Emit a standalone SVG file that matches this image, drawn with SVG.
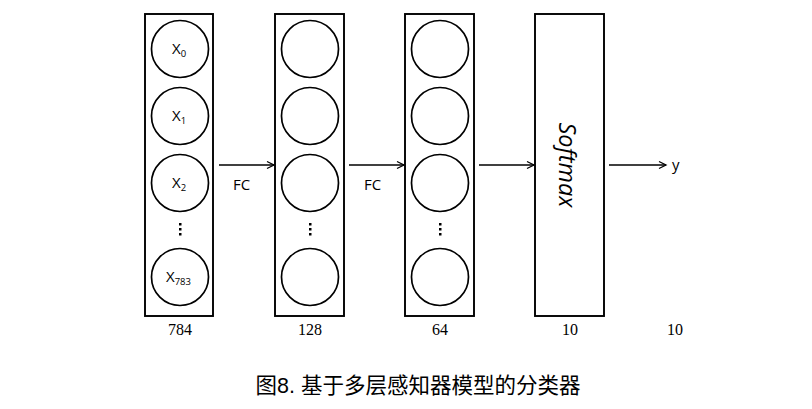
<svg xmlns="http://www.w3.org/2000/svg" width="812" height="409" viewBox="0 0 812 409">
<defs>
<marker id="ah" markerWidth="10" markerHeight="10" refX="8" refY="5" orient="auto" markerUnits="userSpaceOnUse">
<path d="M1,1.5 L8,5 L1,8.5" fill="none" stroke="#000" stroke-width="1.3"/>
</marker>
</defs>
<style>
.box{fill:#fff;stroke:#000;stroke-width:1.9}
.c{fill:#fff;stroke:#000;stroke-width:1.7}
.lbl{font-family:"Open Sans","Liberation Sans",sans-serif;font-size:15px;fill:#000}
.sub{font-size:9.5px}
.num{font-family:"Liberation Serif","DejaVu Serif",serif;font-size:16px;fill:#000;text-anchor:middle}
.conn{stroke:#000;stroke-width:1.4;fill:none;marker-end:url(#ah)}
.dot{fill:#000}
</style>
<rect width="812" height="409" fill="#fff"/>
<g id="layer784">
<rect class="box" x="145" y="14" width="68" height="302"/>
<circle class="c" cx="180" cy="49" r="28.5"/>
<circle class="c" cx="180" cy="116" r="28.5"/>
<circle class="c" cx="180" cy="183" r="28.5"/>
<circle class="c" cx="180" cy="277" r="28.5"/>
<text class="lbl" x="172" y="54">X<tspan class="sub" dy="3">0</tspan></text>
<text class="lbl" x="172" y="121">X<tspan class="sub" dy="3">1</tspan></text>
<text class="lbl" x="172" y="188">X<tspan class="sub" dy="3">2</tspan></text>
<text class="lbl" x="166" y="282">X<tspan class="sub" dy="3">783</tspan></text>
<rect class="dot" x="179" y="223" width="2.5" height="2.5"/>
<rect class="dot" x="179" y="228" width="2.5" height="2.5"/>
<rect class="dot" x="179" y="233" width="2.5" height="2.5"/>
<text class="num" x="180" y="335">784</text>
</g>
<g id="layer128">
<rect class="box" x="275" y="14" width="69" height="302"/>
<circle class="c" cx="310" cy="49" r="28.5"/>
<circle class="c" cx="310" cy="116" r="28.5"/>
<circle class="c" cx="310" cy="183" r="28.5"/>
<circle class="c" cx="310" cy="277" r="28.5"/>
<rect class="dot" x="309" y="223" width="2.5" height="2.5"/>
<rect class="dot" x="309" y="228" width="2.5" height="2.5"/>
<rect class="dot" x="309" y="233" width="2.5" height="2.5"/>
<text class="num" x="310" y="335">128</text>
</g>
<g id="layer64">
<rect class="box" x="405" y="14" width="69" height="302"/>
<circle class="c" cx="440" cy="49" r="28.5"/>
<circle class="c" cx="440" cy="116" r="28.5"/>
<circle class="c" cx="440" cy="183" r="28.5"/>
<circle class="c" cx="440" cy="277" r="28.5"/>
<rect class="dot" x="439" y="223" width="2.5" height="2.5"/>
<rect class="dot" x="439" y="228" width="2.5" height="2.5"/>
<rect class="dot" x="439" y="233" width="2.5" height="2.5"/>
<text class="num" x="440" y="335">64</text>
</g>
<g id="softmax">
<rect class="box" x="535" y="14" width="69" height="302"/>
<text x="568" y="165" transform="rotate(90 568 165)" text-anchor="middle" dominant-baseline="central" font-family="Open Sans, Liberation Sans, sans-serif" font-style="italic" font-size="23.5" fill="#000">Softmax</text>
<text class="num" x="570" y="335">10</text>
</g>
<g id="output">
<text class="lbl" x="672" y="170">y</text>
<text class="num" x="675" y="335">10</text>
</g>
<g id="connectors">
<line class="conn" x1="219" y1="165" x2="274" y2="165"/>
<line class="conn" x1="349" y1="165" x2="404" y2="165"/>
<line class="conn" x1="479" y1="165" x2="534" y2="165"/>
<line class="conn" x1="609" y1="165" x2="666" y2="165"/>
<text class="lbl" x="233" y="190" font-size="13.5">FC</text>
<text class="lbl" x="364" y="190" font-size="13.5">FC</text>
</g>
<text x="418" y="393" text-anchor="middle" font-family="Liberation Sans, Noto Sans CJK SC, sans-serif" font-size="21.5" fill="#000">图8. 基于多层感知器模型的分类器</text>
</svg>
